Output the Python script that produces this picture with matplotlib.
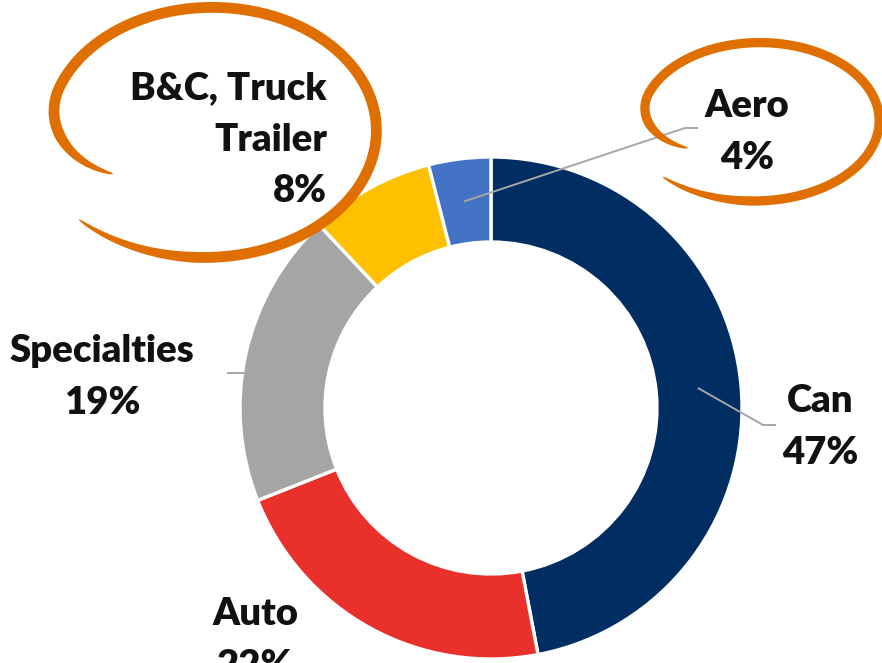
import numpy as np
import matplotlib
matplotlib.use("Agg")
import matplotlib.pyplot as plt

# ---- data ----
categories = ["Can", "Auto", "Specialties", "B&C, Truck\nTrailer", "Aero"]
shares = [47, 22, 19, 8, 4]
colors = ["#002D62", "#E9302A", "#A5A5A5", "#FFC000", "#4472C4"]

W, H = 882, 663
plt.rcParams['font.family'] = ['Lato', 'DejaVu Sans']

fig = plt.figure(figsize=(W / 100, H / 100), dpi=100)
ax = fig.add_axes([0, 0, 1, 1])

def P(x, y):
    """pixel coords (y down) -> axes data coords (y up)"""
    return x, H - np.asarray(y)

cx, cy = P(491, 408)
R_out, R_in = 251, 166
wedges, _ = ax.pie(shares, colors=colors, startangle=90, counterclock=False,
                   radius=R_out, center=(cx, cy),
                   wedgeprops=dict(width=R_out - R_in, edgecolor="white", linewidth=2.4))
ax.set_xlim(0, W)
ax.set_ylim(0, H)
ax.set_aspect("equal")
ax.axis("off")

# mid angles for leader lines
tot = sum(shares)
cum = np.cumsum([0] + shares)
mid = [90 - 360 * (cum[i] + shares[i] / 2) / tot for i in range(len(shares))]
r_mid = (R_out + R_in) / 2
def ring_pt(i):
    a = np.deg2rad(mid[i])
    return cx + r_mid * np.cos(a), cy + r_mid * np.sin(a)

lc = "#A6A6A6"
# Can leader
x0, y0 = ring_pt(0)
ax.plot([x0, 763, 775], [y0, H - 425, H - 425], color=lc, lw=1.4, zorder=5)
# Aero leader
x0, y0 = ring_pt(4)
ax.plot([x0, 685, 697], [y0, H - 128, H - 128], color=lc, lw=1.4, zorder=5)
# Specialties leader
x0, y0 = ring_pt(2)
ax.plot([228, 245, x0], [H - 373, H - 373, y0], color=lc, lw=1.4, zorder=5)

# labels
fs = 27.5
lab_kw = dict(fontsize=fs, fontweight="heavy", color="#111111", linespacing=1.62, zorder=6)
ax.text(820, H - 427, f"{categories[0]}\n{shares[0]}%", ha="center", va="center", **lab_kw)
ax.text(255, H - 640, f"{categories[1]}\n{shares[1]}%", ha="center", va="center", **lab_kw)
ax.text(102, H - 377, f"{categories[2]}\n{shares[2]}%", ha="center", va="center", **lab_kw)
ax.text(327, H - 140, f"{categories[3]}\n{shares[3]}%", ha="right", va="center",
        multialignment="right", **lab_kw)
ax.text(747, H - 132, f"{categories[4]}\n{shares[4]}%", ha="center", va="center", **lab_kw)

# hand-drawn orange loops (decoration)
def loop(lcx, lcy, a, b, wmax, color="#DF6F00"):
    s = np.linspace(0, 1, 500)
    phi = np.deg2rad(223 + s * (572 - 223))
    r = 1.0 + 0.12 * (1 - s) ** 3 - 0.28 * np.clip((s - 0.85) / 0.15, 0, 1) ** 2
    x = lcx + a * r * np.cos(phi)
    y = lcy - b * r * np.sin(phi)
    y = H - y
    dx, dy = np.gradient(x), np.gradient(y)
    n = np.hypot(dx, dy)
    nx, ny = -dy / n, dx / n
    w = wmax * np.clip(np.minimum(s / 0.12, (1 - s) / 0.08), 0, 1) ** 0.6 + 0.8
    hw = w / 2
    px = np.concatenate([x + nx * hw, (x - nx * hw)[::-1]])
    py = np.concatenate([y + ny * hw, (y - ny * hw)[::-1]])
    ax.fill(px, py, color=color, lw=0, zorder=7)

loop(211, 128, 161, 120, 10)
loop(759, 119, 117, 76, 8.5)

fig.savefig("out.png", dpi=100)
